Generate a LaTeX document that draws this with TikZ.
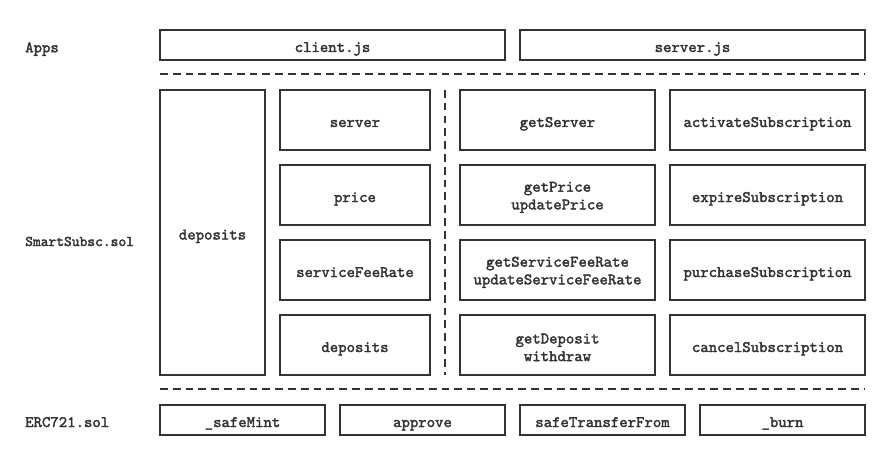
\documentclass[tikz,border=0pt]{standalone}
\usepackage{fontspec}
\newfontfamily\boxfont{lmmono10-regular.otf}[FakeBold=2.2]
\definecolor{ink}{HTML}{333333}
\tikzset{
  box/.style={draw=ink, line width=2.6pt, rectangle, inner sep=0pt, align=center, text=ink,
    font=\boxfont\fontsize{16}{17.7}\selectfont},
  one/.style={text height=14pt, text depth=0pt},
  lbl/.style={anchor=base west, inner sep=0pt, text=ink, font=\boxfont\fontsize{16}{17.7}\selectfont},
  sep/.style={draw=ink, line width=2.6pt, dash pattern=on 7.7pt off 5.1pt}
}
\newcommand{\firstup}{\rule{0pt}{14.6pt}}
\begin{document}
\begin{tikzpicture}[x=1pt,y=-1pt]
\useasboundingbox (0,0) rectangle (890,465);
% labels
\node[lbl] (apps) at (25,52.3) {Apps};
\node[lbl, font=\boxfont\fontsize{14.8}{17.7}\selectfont] (smart) at (25,246) {SmartSubsc.sol};
\node[lbl] (erc) at (25,427) {ERC721.sol};
% apps
\node[box, one, minimum width=345, minimum height=30] (client) at (332.5,45) {client.js};
\node[box, one, minimum width=345, minimum height=30] (serverjs) at (692.5,45) {server.js};
% separators
\coordinate (t1) at (160,74); \coordinate (t2) at (865,74);
\coordinate (b1) at (160,389); \coordinate (b2) at (865,389);
\coordinate (v1) at (445,90); \coordinate (v2) at (445,375);
\draw[sep] (t1) -- (t2);
\draw[sep] (b1) -- (b2);
\draw[sep] (v1) -- (v2);
% smart contract
\node[box, one, minimum width=105, minimum height=285] (depbig) at (212.5,232.5) {deposits};
\node[box, one, minimum width=150, minimum height=60] (server) at (355,120) {server};
\node[box, one, minimum width=150, minimum height=60] (price) at (355,195) {price};
\node[box, one, minimum width=150, minimum height=60] (fee) at (355,270) {serviceFeeRate};
\node[box, one, minimum width=150, minimum height=60] (dep) at (355,345) {deposits};
\node[box, one, minimum width=195, minimum height=60] (getserver) at (557.5,120) {getServer};
\node[box, minimum width=195, minimum height=60] (getprice) at (557.5,195) {\firstup getPrice\\updatePrice};
\node[box, minimum width=195, minimum height=60] (getfee) at (557.5,270) {\firstup getServiceFeeRate\\updateServiceFeeRate};
\node[box, minimum width=195, minimum height=60] (getdep) at (557.5,345) {\firstup getDeposit\\withdraw};
\node[box, one, minimum width=195, minimum height=60] (activate) at (767.5,120) {activateSubscription};
\node[box, one, minimum width=195, minimum height=60] (expire) at (767.5,195) {expireSubscription};
\node[box, one, minimum width=195, minimum height=60] (purchase) at (767.5,270) {purchaseSubscription};
\node[box, one, minimum width=195, minimum height=60] (cancel) at (767.5,345) {cancelSubscription};
% erc721
\node[box, one, minimum width=165, minimum height=30] (mint) at (242.5,420) {\_safeMint};
\node[box, one, minimum width=165, minimum height=30] (approve) at (422.5,420) {approve};
\node[box, one, minimum width=165, minimum height=30] (transfer) at (602.5,420) {safeTransferFrom};
\node[box, one, minimum width=165, minimum height=30] (burn) at (782.5,420) {\_burn};
\end{tikzpicture}
\end{document}
